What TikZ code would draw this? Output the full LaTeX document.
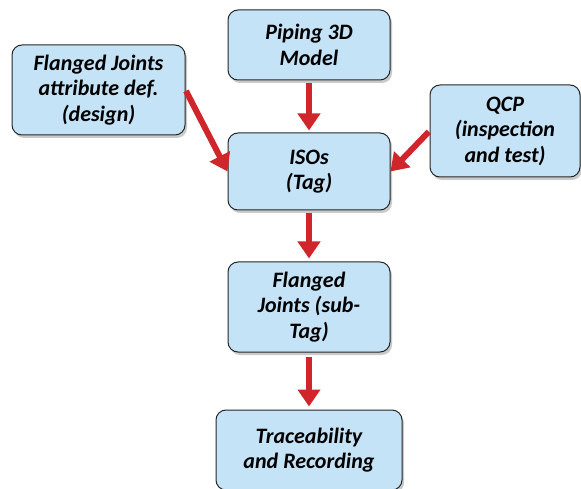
\documentclass[tikz,border=0pt]{standalone}
\usepackage{fontspec}
\setmainfont{Carlito}
\usetikzlibrary{arrows.meta,shadows}
\definecolor{boxfill}{HTML}{C5E3F6}
\definecolor{arrred}{HTML}{D0262B}
\begin{document}
\begin{tikzpicture}[x=1pt,y=1pt,
  box/.style={draw=black!85, line width=1pt, fill=boxfill, rounded corners=10pt,
    align=center, inner sep=2pt,
    font=\bfseries\itshape\fontsize{22}{25.5}\selectfont,
    drop shadow={shadow xshift=2pt, shadow yshift=-3pt, opacity=0.35, fill=black!60}},
  flow/.style={draw=arrred, line width=6pt,
    -{Triangle[width=22pt,length=17pt]}, arrred}]
\useasboundingbox (0,0) rectangle (581,488);
\node[box, minimum width=162pt, minimum height=70pt] (pip) at (309,443) {Piping 3D\\Model};
\node[box, minimum width=173pt, minimum height=90pt] (fja) at (98.5,398) {Flanged Joints\\attribute def.\\(design)};
\node[box, minimum width=150pt, minimum height=92pt] (qcp) at (505,357) {QCP\\(inspection\\and test)};
\node[box, minimum width=162pt, minimum height=77pt] (iso) at (309,316.5) {ISOs\\(Tag)};
\node[box, minimum width=162pt, minimum height=90pt] (fjs) at (309,181) {Flanged\\Joints (sub-\\Tag)};
\node[box, minimum width=186pt, minimum height=80pt] (tr) at (309,38) {Traceability\\and Recording};
\draw[flow, shorten <=3pt, shorten >=2pt] (pip) -- (iso);
\draw[flow, shorten <=1pt] (fja.east) -- (iso.west);
\draw[flow, shorten <=1pt] (qcp.west) -- (iso.east);
\draw[flow, shorten <=3pt, shorten >=3pt] (iso) -- (fjs);
\draw[flow, shorten <=4pt, shorten >=3pt] (fjs) -- (tr);
\end{tikzpicture}
\end{document}
